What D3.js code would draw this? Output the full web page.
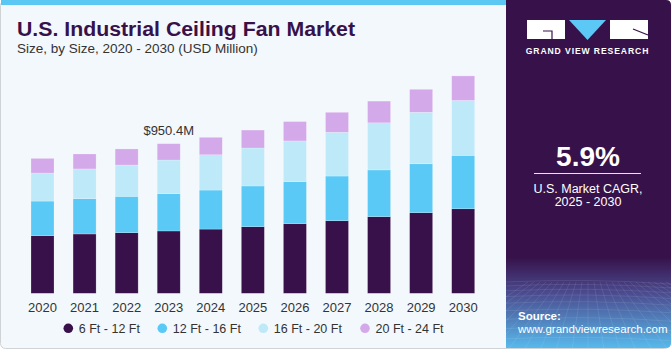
<!DOCTYPE html>
<html><head><meta charset="utf-8">
<script src="https://cdn.jsdelivr.net/npm/d3@7"></script>
<style>
html,body{margin:0;padding:0;background:#fff;}
svg{display:block;}
text{font-family:"Liberation Sans",Arial,sans-serif;}
</style></head>
<body>
<svg id="c" width="671" height="350"></svg>
<script>
const years = ["2020","2021","2022","2023","2024","2025","2026","2027","2028","2029","2030"];
const seriesNames = ["6 Ft - 12 Ft","12 Ft - 16 Ft","16 Ft - 20 Ft","20 Ft - 24 Ft"];
const s6to12  = [366, 377, 385, 396, 408, 423, 442, 461, 487, 512, 537];
const s12to16 = [220, 224, 231, 237, 248, 259, 267, 284, 297, 311, 339];
const s16to20 = [178, 189, 199, 213.6, 224, 241, 259, 278, 299, 327, 349];
const s20to24 = [93, 95, 102, 103.8, 111, 114, 123, 127, 138, 146, 156];
const colors = ["#38104a","#5bc9f5","#bde9f9","#d4a9ea"];
const annotation = {year:"2023", text:"$950.4M"};

const svg = d3.select("#c");
const defs = svg.append("defs");

// panel backgrounds
svg.append("rect").attr("x",0.5).attr("y",0.5).attr("width",669).attr("height",348).attr("rx",5)
  .attr("fill","#f3f8fc").attr("stroke","#cfd3d6");
svg.append("rect").attr("x",1).attr("y",0).attr("width",505).attr("height",5).attr("fill","#5bc8f3");

// right panel gradient
const g1 = defs.append("linearGradient").attr("id","rg").attr("x1",0).attr("y1",0).attr("x2",0).attr("y2",1);
g1.append("stop").attr("offset","0").attr("stop-color","#37124a");
g1.append("stop").attr("offset","0.74").attr("stop-color","#37124a");
g1.append("stop").attr("offset","0.84").attr("stop-color","#4a4a8e");
g1.append("stop").attr("offset","1").attr("stop-color","#58b9ec");
const clip = defs.append("clipPath").attr("id","rp");
clip.append("path").attr("d","M506,0 H666 Q671,0 671,5 V343 Q671,348 666,348 H506 Z");
const rp = svg.append("g").attr("clip-path","url(#rp)");
rp.append("rect").attr("x",506).attr("y",0).attr("width",165).attr("height",348).attr("fill","url(#rg)");
// faint grid in the bottom of the right panel
const gridG = rp.append("g").attr("stroke","#ffffff").attr("stroke-opacity",0.13).attr("stroke-width",0.7).attr("fill","none");
for(let i=0;i<14;i++){
  const y = 282 + i*i*0.45 + i*3.5;
  gridG.append("path").attr("d",`M506,${y} Q588,${y-4} 671,${y+2}`);
}
for(let i=-10;i<24;i++){
  const x0 = 588 + i*6;
  const x1 = 588 + i*16;
  gridG.append("line").attr("x1",x0).attr("y1",282).attr("x2",x1).attr("y2",350);
}

// logo
const logo = svg.append("g");
logo.append("rect").attr("x",527).attr("y",20).attr("width",38).attr("height",19).attr("fill","#fff");
logo.append("path").attr("d","M543,31 H552 V39").attr("stroke","#37124a").attr("stroke-width",1.2).attr("fill","none");
logo.append("path").attr("d","M569,20 H606 L587.5,40 Z").attr("fill","#5bc8f5");
logo.append("rect").attr("x",610).attr("y",20).attr("width",38).attr("height",19).attr("fill","#fff");
logo.append("path").attr("d","M633,29 L648,35").attr("stroke","#37124a").attr("stroke-width",1.2);
svg.append("text").attr("x",587.5).attr("y",54).attr("text-anchor","middle").attr("fill","#fff")
  .attr("font-size",8.6).attr("font-weight","bold").attr("letter-spacing",0.9).text("GRAND VIEW RESEARCH");

// CAGR
svg.append("text").attr("x",588).attr("y",166).attr("text-anchor","middle").attr("fill","#fff")
  .attr("font-size",28).attr("font-weight","bold").text("5.9%");
svg.append("line").attr("x1",534).attr("x2",641).attr("y1",173.5).attr("y2",173.5).attr("stroke","#e8e2ee").attr("stroke-width",1);
svg.append("text").attr("x",588).attr("y",193).attr("text-anchor","middle").attr("fill","#fff")
  .attr("font-size",12.5).text("U.S. Market CAGR,");
svg.append("text").attr("x",588).attr("y",206).attr("text-anchor","middle").attr("fill","#fff")
  .attr("font-size",12.5).text("2025 - 2030");
svg.append("text").attr("x",518).attr("y",320).attr("fill","#fff").attr("font-size",11.5).attr("font-weight","bold").text("Source:");
svg.append("text").attr("x",518).attr("y",333).attr("fill","#fff").attr("font-size",11.5).text("www.grandviewresearch.com");

// title
svg.append("text").attr("x",17).attr("y",36).attr("fill","#37124a").attr("font-size",20).attr("font-weight","bold")
  .attr("textLength",338).attr("lengthAdjust","spacingAndGlyphs").text("U.S. Industrial Ceiling Fan Market");
svg.append("text").attr("x",17).attr("y",53).attr("fill","#333").attr("font-size",13.5)
  .text("Size, by Size, 2020 - 2030 (USD Million)");

// chart
const x = d3.scaleBand().domain(years).range([31,474.7]).paddingInner(0.453).paddingOuter(0);
const y = d3.scaleLinear().domain([0,1400]).range([293.3, 293.3-1400/6.353]);

const data = years.map((yr,i)=>({year:yr, a:s6to12[i], b:s12to16[i], c:s16to20[i], d:s20to24[i]}));
const keys = ["a","b","c","d"];
const stack = d3.stack().keys(keys)(data);

svg.append("g").selectAll("g").data(stack).join("g").attr("fill",(d,i)=>colors[i])
  .selectAll("rect").data(d=>d).join("rect")
  .attr("x",d=>x(d.data.year)).attr("width",x.bandwidth())
  .attr("y",d=>y(d[1])).attr("height",d=>y(d[0])-y(d[1]))
  .attr("stroke","#ffffff").attr("stroke-opacity",0.35).attr("stroke-width",0.6);

const xAxis = svg.append("g").attr("transform","translate(0,293.3)")
  .call(d3.axisBottom(x).tickSize(0).tickPadding(9));
xAxis.select(".domain").remove();
xAxis.selectAll("text").attr("font-size",13).attr("fill","#333").attr("font-family","Liberation Sans, Arial, sans-serif");

const ai = years.indexOf(annotation.year);
const tot = s6to12[ai]+s12to16[ai]+s16to20[ai]+s20to24[ai];
svg.append("text").attr("x",x(annotation.year)+x.bandwidth()/2).attr("y",y(tot)-9)
  .attr("text-anchor","middle").attr("font-size",13).attr("fill","#333").text(annotation.text);

// legend
const legX = [68.3,162.3,263.3,365];
const leg = svg.append("g").selectAll("g").data(seriesNames).join("g")
  .attr("transform",(d,i)=>`translate(${legX[i]},328.3)`);
leg.append("circle").attr("r",4.8).attr("fill",(d,i)=>colors[i]);
leg.append("text").attr("x",10.5).attr("y",4.5).attr("font-size",12.5).attr("fill","#333").text(d=>d);
</script>
</body></html>
